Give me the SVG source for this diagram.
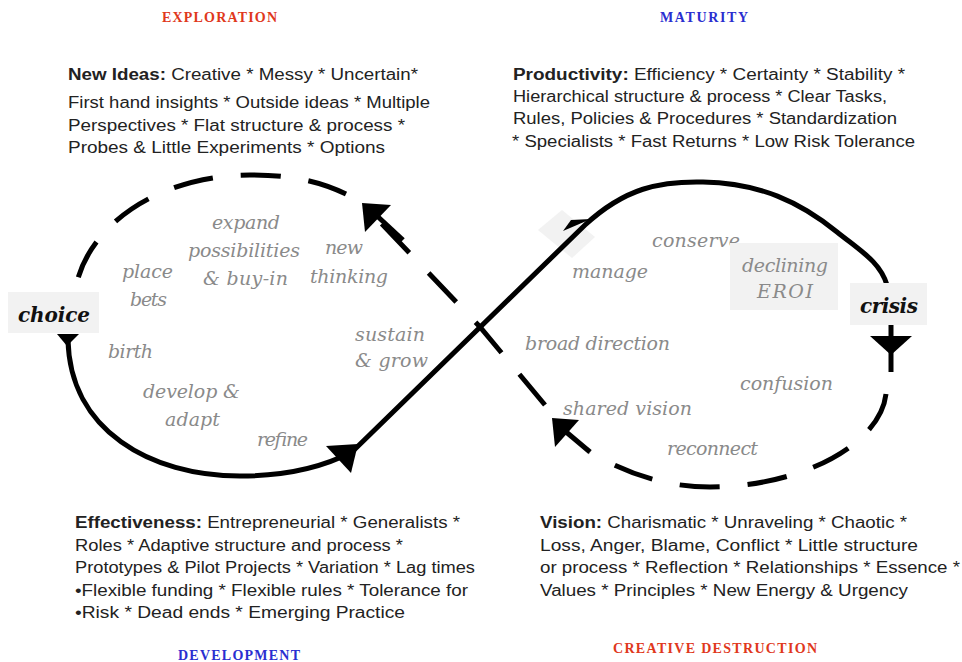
<svg xmlns="http://www.w3.org/2000/svg" width="962" height="662" viewBox="0 0 962 662">
<style>
.blk{font-family:"Liberation Sans",Arial,sans-serif;font-size:16px;fill:#222;white-space:pre}
.blk .b{font-weight:bold}
.lbl{font-family:"DejaVu Serif",Cambria,serif;font-style:italic;font-size:19px;fill:#8a8a8a}
.key{font-family:"DejaVu Serif",Cambria,serif;font-style:italic;font-weight:bold;font-size:20px;fill:#111}
.ttl{font-family:"Liberation Serif","Times New Roman",serif;font-weight:bold;font-size:14px}
.red{fill:#e0381c}
.blue{fill:#2a2ed0}
.solid{fill:none;stroke:#000;stroke-width:5;stroke-linecap:butt}
.dash{fill:none;stroke:#000;stroke-width:5;stroke-dasharray:40 28}
.head{fill:#000}
.box{fill:#f2f2f2}
</style>
<rect width="962" height="662" fill="#fff"/>

<g id="titles">
<text class="ttl red" x="162" y="22" textLength="115">EXPLORATION</text>
<text class="ttl blue" x="660" y="22" textLength="88">MATURITY</text>
<text class="ttl blue" x="178" y="660" textLength="122">DEVELOPMENT</text>
<text class="ttl red" x="613" y="653" textLength="204">CREATIVE DESTRUCTION</text>
</g>

<g id="block-exploration" class="blk">
<text x="68" y="80" textLength="350" lengthAdjust="spacingAndGlyphs"><tspan class="b">New Ideas:</tspan> Creative * Messy * Uncertain*</text>
<text x="68" y="108" textLength="362" lengthAdjust="spacingAndGlyphs">First hand insights * Outside ideas  * Multiple</text>
<text x="68" y="131" textLength="337" lengthAdjust="spacingAndGlyphs">Perspectives * Flat structure &amp; process *</text>
<text x="68" y="153" textLength="317" lengthAdjust="spacingAndGlyphs">Probes &amp; Little Experiments *  Options</text>
</g>

<g id="block-maturity" class="blk">
<text x="513" y="80" textLength="392" lengthAdjust="spacingAndGlyphs"><tspan class="b">Productivity:</tspan> Efficiency * Certainty * Stability *</text>
<text x="513" y="102" textLength="374" lengthAdjust="spacingAndGlyphs">Hierarchical structure &amp; process * Clear Tasks,</text>
<text x="513" y="124" textLength="384" lengthAdjust="spacingAndGlyphs">Rules, Policies &amp; Procedures * Standardization</text>
<text x="512" y="147" textLength="403" lengthAdjust="spacingAndGlyphs">* Specialists * Fast Returns * Low Risk Tolerance</text>
</g>

<g id="block-development" class="blk">
<text x="75" y="528" textLength="385" lengthAdjust="spacingAndGlyphs"><tspan class="b">Effectiveness:</tspan>  Entrepreneurial  * Generalists *</text>
<text x="75" y="551" textLength="328" lengthAdjust="spacingAndGlyphs">Roles * Adaptive structure and process *</text>
<text x="75" y="573" textLength="400" lengthAdjust="spacingAndGlyphs">Prototypes &amp; Pilot Projects * Variation  * Lag times</text>
<text x="75" y="596" textLength="393" lengthAdjust="spacingAndGlyphs">•Flexible funding * Flexible rules * Tolerance for</text>
<text x="75" y="618" textLength="330" lengthAdjust="spacingAndGlyphs">•Risk * Dead ends * Emerging Practice</text>
</g>

<g id="block-destruction" class="blk">
<text x="540" y="528" textLength="367" lengthAdjust="spacingAndGlyphs"><tspan class="b">Vision:</tspan> Charismatic * Unraveling * Chaotic *</text>
<text x="540" y="551" textLength="378" lengthAdjust="spacingAndGlyphs">Loss, Anger,  Blame,  Conflict * Little structure</text>
<text x="540" y="573" textLength="420" lengthAdjust="spacingAndGlyphs">or process * Reflection * Relationships * Essence *</text>
<text x="540" y="596" textLength="368" lengthAdjust="spacingAndGlyphs">Values * Principles * New Energy &amp; Urgency</text>
</g>

<polygon class="box" points="538,230 562,210 595,237 572,258"/>

<g id="connectors">
<path class="solid" d="M 68 340 C 70 430 150 476 240 476 C 290 476 325 466 352 452 L 585 225 C 625 188 660 181 703 182 C 760 183 800 202 837 232 C 862 252 880 262 887 285"/>
<polygon class="head" points="326,446 358,444 351,473"/>
<polygon class="head" points="563,231 571,220 591,219"/>
<polygon class="head" points="57,334 79,334 67,346"/>
<line x1="891" y1="325" x2="891" y2="372" stroke="#000" stroke-width="5"/>
<polygon class="head" points="870,336 912,336 891,355"/>
<path class="dash" d="M 886 394 C 880 445 800 487 710 487 C 665 487 625 473 590 452"/>
<path class="dash" d="M 545 405 L 480 327 L 378 220"/>
<path class="dash" d="M 346 194 C 315 179 285 175 250 175 C 160 175 85 225 75 292"/>
<line x1="590" y1="452" x2="565" y2="431" stroke="#000" stroke-width="5"/>
<polygon class="head" points="552,418 579,420 555,447"/>
<line x1="403" y1="240" x2="375" y2="214" stroke="#000" stroke-width="5"/>
<polygon class="head" points="362,203 391,205 365,232"/>
</g>

<g id="loop-left-labels" class="lbl">
<text x="212" y="229" textLength="68">expand</text>
<text x="188" y="257" textLength="112">possibilities</text>
<text x="203" y="285" textLength="85">&amp; buy-in</text>
<text x="122" y="278" textLength="51">place</text>
<text x="130" y="306" textLength="37">bets</text>
<text x="325" y="254" textLength="38">new</text>
<text x="310" y="283" textLength="78">thinking</text>
<text x="108" y="358" textLength="45">birth</text>
<text x="143" y="398" textLength="97">develop &amp;</text>
<text x="165" y="426" textLength="55">adapt</text>
<text x="257" y="446" textLength="51">refine</text>
<text x="355" y="341" textLength="70">sustain</text>
<text x="355" y="367" textLength="73">&amp; grow</text>
</g>

<g id="loop-right-labels" class="lbl">
<text x="652" y="247" textLength="88">conserve</text>
<text x="572" y="278" textLength="76">manage</text>
<text x="525" y="350" textLength="145">broad direction</text>
<text x="740" y="390" textLength="93">confusion</text>
<text x="563" y="415" textLength="129">shared vision</text>
<text x="667" y="455" textLength="91">reconnect</text>
</g>

<g id="node-declining">
<rect class="box" x="730" y="243" width="108" height="67"/>
<text class="lbl" x="742" y="272" textLength="86">declining</text>
<text class="lbl" x="757" y="298" textLength="56">EROI</text>
</g>

<g id="node-choice">
<rect class="box" x="8" y="292" width="91" height="41"/>
<text class="key" x="18" y="322" textLength="72">choice</text>
</g>

<g id="node-crisis">
<rect class="box" x="850" y="283" width="77" height="42"/>
<text class="key" x="860" y="313" textLength="58">crisis</text>
</g>
</svg>
